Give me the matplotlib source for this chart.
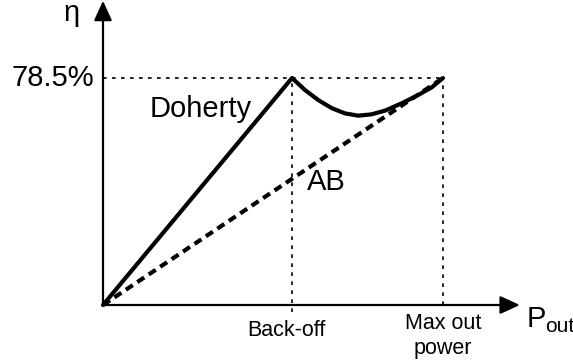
import matplotlib
matplotlib.use("Agg")
import matplotlib.pyplot as plt

plt.rcParams['font.family'] = ['Liberation Sans', 'DejaVu Sans']

# Doherty efficiency curve (normalised: back-off / max power on x, peak on y)
doherty_x = [0.0, 0.556, 0.594, 0.633, 0.673, 0.712, 0.751, 0.790, 0.829,
             0.879, 0.927, 0.967, 1.0]
doherty_y = [0.0, 1.0, 0.947, 0.903, 0.867, 0.844, 0.834, 0.840, 0.856,
             0.889, 0.925, 0.959, 1.0]

# class AB efficiency rises linearly to the same peak
ab_x = [0.0, 1.0]
ab_y = [0.0, 1.0]

backoff = 0.556
max_power = 1.0
peak = 1.0
peak_label = "78.5%"
tick_labels = ["Back-off", "Max out\npower"]

fig = plt.figure(figsize=(5.73, 3.64), dpi=100)
ax = fig.add_axes([0, 0, 1, 1])
ax.set_xlim(-103 / 340, 470 / 340)
ax.set_ylim(-59 / 227, 305 / 227)
ax.axis('off')

# axes with arrows
arrow = dict(arrowstyle='-|>,head_length=1.2,head_width=0.55', lw=1.6,
             color='black', shrinkA=0, shrinkB=0)
ax.annotate('', xy=(1.226, 0), xytext=(0, 0), arrowprops=arrow)
ax.annotate('', xy=(0, 1.34), xytext=(0, 0), arrowprops=arrow)

# dotted guides
dot = dict(color='black', lw=1.2, linestyle=(0, (2.2, 3.2)))
ax.plot([0, max_power], [peak, peak], **dot)
ax.plot([backoff, backoff], [-0.03, peak], **dot)
ax.plot([max_power, max_power], [0, peak], **dot)

# curves
ax.plot(ab_x, ab_y, color='black', lw=3.0, linestyle=(0, (2.0, 1.3)),
        solid_capstyle='round')
ax.plot(doherty_x, doherty_y, color='black', lw=3.0, solid_joinstyle='round',
        solid_capstyle='round')

# labels
ax.text(-0.091, 1.286, "η", fontsize=21, ha='center', va='center')
ax.text(-0.026, peak, peak_label, fontsize=21, ha='right', va='center')
ax.text(0.138, 0.828, "Doherty", fontsize=21, ha='left', va='baseline')
ax.text(0.656, 0.542, "AB", fontsize=21, ha='center', va='center')
ax.text(backoff - 0.016, -0.066, tick_labels[0], fontsize=15.5,
        ha='center', va='top')
ax.text(max_power, -0.035, tick_labels[1], fontsize=15.5, ha='center',
        va='top', linespacing=1.25)
ax.text(1.247, -0.097, "P", fontsize=21, ha='left', va='baseline')
ax.text(1.30, -0.12, "out", fontsize=15, ha='left', va='baseline')

fig.savefig("out.png", dpi=100)
